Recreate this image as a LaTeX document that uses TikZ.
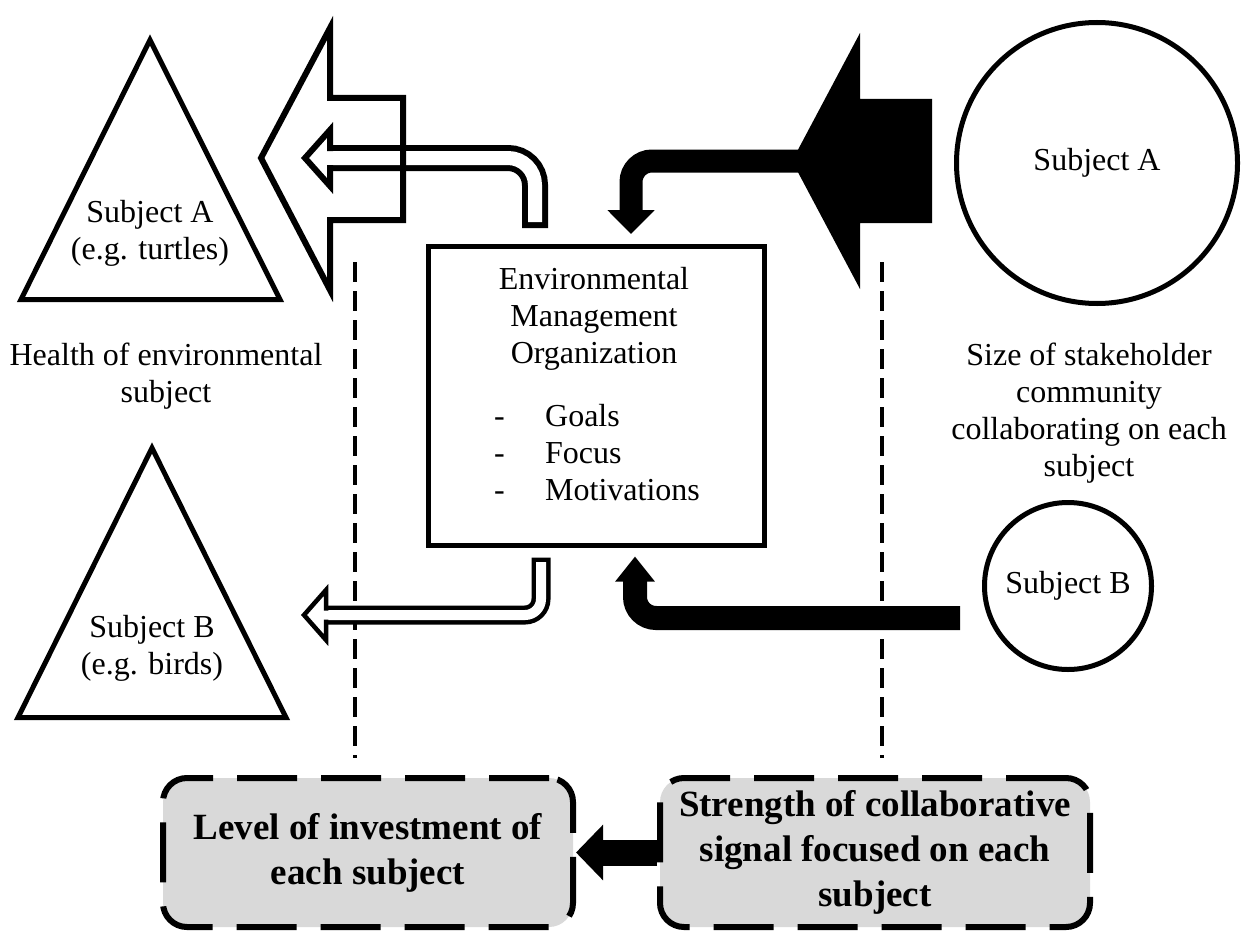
\documentclass[tikz,border=0pt]{standalone}
\usepackage{fontspec}
\setmainfont{Liberation Serif}
\usetikzlibrary{positioning,arrows.meta,calc}
\definecolor{keygray}{RGB}{217,217,217}

\begin{document}
\begin{tikzpicture}[x=1pt,y=-1pt,
  txt/.style={inner sep=0pt,align=center,font=\fontsize{32}{36.8}\selectfont},
  orgbox/.style={rectangle,draw,line width=5pt,minimum width=336pt,minimum height=299pt,inner sep=0pt},
  subj/.style={circle,draw,line width=5pt,inner sep=0pt,font=\fontsize{32}{36.8}\selectfont},
  keybox/.style={rectangle,rounded corners=24pt,draw,fill=keygray,line width=6pt,
                 dash pattern=on 60pt off 24pt,minimum height=149pt,inner sep=0pt,
                 align=center,font=\bfseries\fontsize{37}{45}\selectfont},
  outl/.style={draw,line width=5pt,line join=miter},
  guide/.style={line width=4pt,dash pattern=on 20pt off 9pt},
  solidarr/.style={line width=#1,rounded corners=21pt},
  hollow/.style={line width=#1,rounded corners=27pt}
]
\useasboundingbox (0,0) rectangle (1241,931);

% subjects
\draw[outl] (150,40) -- (21,299.5) -- (280,299.5) -- cycle;
\node[txt,anchor=north] (triA) at (150,200) {Subject A\\(e.g. turtles)};
\draw[outl] (152,448) -- (18,717.5) -- (286,717.5) -- cycle;
\node[txt,anchor=north] (triB) at (152,615) {Subject B\\(e.g. birds)};
\node[subj,minimum size=281pt] (subA) at (1097,163) {Subject A};
\node[subj,minimum size=167pt] (subB) at (1068,586) {Subject B};

\node[txt,anchor=north] (health) at (166,343) {Health of environmental\\subject};
\node[txt,anchor=north] (size) at (1089,343) {Size of stakeholder\\community\\collaborating on each\\subject};

% organization
\node[orgbox] (org) at (596,395.5) {};
\node[txt,anchor=north] (orgname) at (594,267) {Environmental\\Management\\Organization};
\node[txt,align=left,anchor=north west] (orgaims) at (494,404)
  {\makebox[51pt][l]{-}Goals\\\makebox[51pt][l]{-}Focus\\\makebox[51pt][l]{-}Motivations};

% key boxes
\node[keybox,minimum width=410pt] (keyL) at (368,852.5) {Level of investment of\\each subject};
\node[keybox,minimum width=430pt] (keyR) at (875,852.5) {Strength of collaborative\\signal focused on each\\subject};

\draw[guide] (355,262) -- (355,758);
\draw[guide] (882,262) -- (882,758);

% outgoing investment (hollow arrows)
\coordinate (outA) at ($(org.north)+(-61,-15.5)$);
\draw[hollow=26pt] (outA) -- (535,158) -- (330,158);
\draw[hollow=14pt,white,shorten <=6pt] (outA) -- (535,158) -- (330,158);
\draw[line width=6pt,line join=miter] (330,151) -- (330,130) -- (305,158) -- (330,186) -- (330,165);

\coordinate (outB) at ($(org.south)+(-55,10)$);
\draw[hollow=19pt,rounded corners=16pt] (outB) -- (541,615) -- (326,615);
\draw[hollow=10pt,rounded corners=16pt,white,shorten <=4.5pt] (outB) -- (541,615) -- (326,615);
\draw[line width=4.5pt,line join=miter] (326,610.5) -- (326,590) -- (304,615) -- (326,640) -- (326,619.5);

\draw[line width=6pt,line join=miter] (403,98) -- (330,98) -- (330,28) -- (261,158) -- (330,290) -- (330,220) -- (403,220) -- cycle;

% incoming signal (solid arrows)
\fill (932,99) -- (860,99) -- (860,33) -- (792,161) -- (860,289) -- (860,223) -- (932,223) -- cycle;
\draw[solidarr=23pt,-{Triangle[length=24pt,width=46pt]}] (800,161) -- (631,161) -- ($(org.north)+(35,-9.5)$);
\draw[solidarr=24pt,-{Triangle[length=25pt,width=38pt]}] ($(subB.west)+(-22,32)$) -- (635,618) -- ($(org.south)+(39,9)$);

\draw[line width=26pt,-{Triangle[length=27pt,width=54pt]}] (keyR.west) -- (keyL.east);
\end{tikzpicture}
\end{document}
